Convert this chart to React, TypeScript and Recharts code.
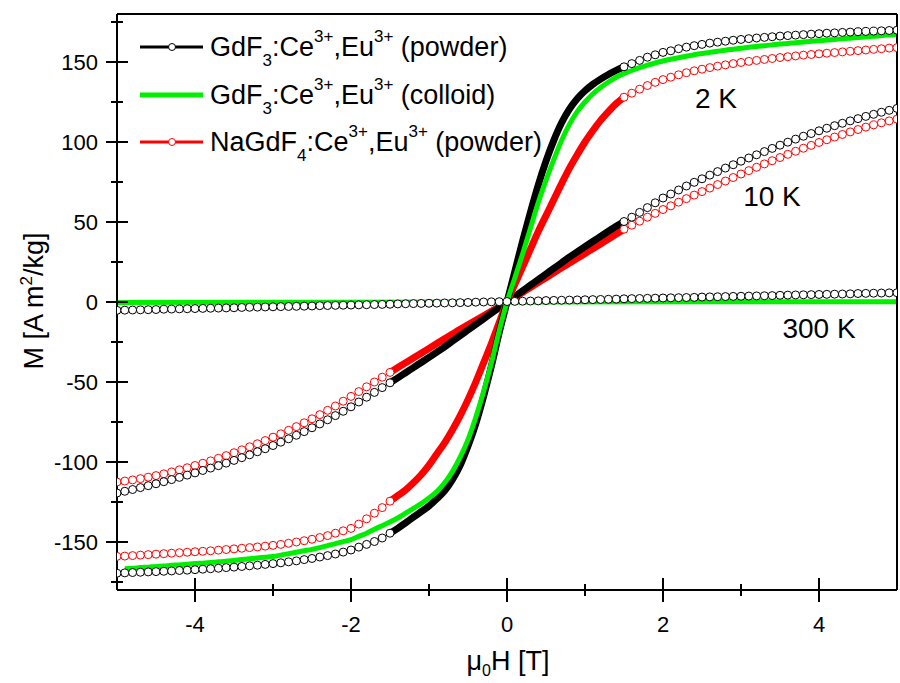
import { LineChart, Line, XAxis, YAxis, ReferenceLine } from "recharts";

// field grid, tesla
const FIELD = [
  -5, -4.9, -4.8, -4.7, -4.6, -4.5, -4.4, -4.3, -4.2, -4.1,
  -4, -3.9, -3.8, -3.7, -3.6, -3.5, -3.4, -3.3, -3.2, -3.1,
  -3, -2.9, -2.8, -2.7, -2.6, -2.5, -2.4, -2.3, -2.2, -2.1,
  -2, -1.9, -1.8, -1.7, -1.6, -1.5, -1.4, -1.3, -1.2, -1.1,
  -1, -0.9, -0.8, -0.7, -0.6, -0.5, -0.4, -0.3, -0.2, -0.1,
  0,
  0.1, 0.2, 0.3, 0.4, 0.5, 0.6, 0.7, 0.8, 0.9, 1,
  1.1, 1.2, 1.3, 1.4, 1.5, 1.6, 1.7, 1.8, 1.9, 2,
  2.1, 2.2, 2.3, 2.4, 2.5, 2.6, 2.7, 2.8, 2.9, 3,
  3.1, 3.2, 3.3, 3.4, 3.5, 3.6, 3.7, 3.8, 3.9, 4,
  4.1, 4.2, 4.3, 4.4, 4.5, 4.6, 4.7, 4.8, 4.9, 5,
];

// GdF3:Ce,Eu powder, 2 K
const GDF3_POWDER_2K = [
  -169.5, -169.3, -169.1, -168.9, -168.7, -168.5, -168.3, -168.1, -167.8, -167.6,
  -167.3, -167.0, -166.7, -166.4, -166.0, -165.7, -165.3, -164.9, -164.5, -164.0,
  -163.5, -163.0, -162.4, -161.8, -161.0, -160.3, -159.4, -158.5, -157.5, -156.3,
  -155.0, -153.2, -151.5, -149.7, -147.5, -144.5, -141.5, -138, -134.5, -131,
  -127.5, -123, -118, -111, -102, -90, -76, -59, -40, -19,
  0,
  19, 38, 56, 73, 88, 101, 112, 120.5, 127, 132,
  136, 139.3, 142.2, 144.7, 147, 149, 151, 153, 154.5, 156,
  157, 158.3, 159.3, 160.2, 161, 161.8, 162.4, 163, 163.6, 164.1,
  164.6, 165, 165.4, 165.8, 166.2, 166.5, 166.8, 167.1, 167.4, 167.7,
  168, 168.2, 168.5, 168.7, 168.9, 169.1, 169.3, 169.5, 169.7, 169.9,
];

// GdF3:Ce,Eu colloid, 2 K
const GDF3_COLLOID_2K = [
  null, -166.7, -166.4, -166.0, -165.7, -165.3, -165.0, -164.6, -164.3, -163.9,
  -163.5, -163.2, -162.8, -162.4, -162.0, -161.5, -161.0, -160.5, -160.0, -159.5,
  -159.0, -158.2, -157.3, -156.4, -155.5, -154.6, -153.5, -152.3, -151.0, -149.8,
  -148.5, -146.5, -144.5, -142.0, -139.8, -137.5, -135.0, -132.0, -129.0, -126.0,
  -122.5, -118.5, -113, -106, -97, -86, -72, -56, -38, -18,
  0,
  15, 30, 46, 62, 76, 89, 101, 111, 119, 125,
  130, 134, 137.5, 140.5, 142.7, 144.7, 146.5, 148, 149.4, 150.6,
  151.7, 152.7, 153.6, 154.5, 155.3, 156, 156.7, 157.4, 158, 158.6,
  159.2, 159.7, 160.2, 160.7, 161.2, 161.6, 162.1, 162.5, 162.9, 163.3,
  163.7, 164.1, 164.5, 164.9, 165.3, 165.7, 166.1, 166.5, 166.9, 167.3,
];

// NaGdF4:Ce,Eu powder, 2 K
const NAGDF4_POWDER_2K = [
  -159.0, -158.8, -158.5, -158.2, -157.9, -157.6, -157.3, -157.0, -156.7, -156.4,
  -156.1, -155.8, -155.5, -155.1, -154.7, -154.3, -153.9, -153.5, -153.1, -152.6,
  -152.1, -151.5, -150.8, -150.0, -149.2, -148.3, -147.2, -146.0, -144.5, -143.0,
  -141.5, -138.8, -135.5, -132.0, -128.5, -124.5, -121, -117.5, -113, -108,
  -102, -95, -88, -80, -71, -61, -50, -38, -26, -13,
  0,
  11, 22, 33, 44, 54, 64, 74, 83.5, 92, 100,
  107, 113.5, 119, 124, 128, 130.5, 133, 135.3, 137.3, 139,
  140.5, 142, 143.3, 144.5, 145.5, 146.5, 147.4, 148.2, 149, 149.7,
  150.4, 151, 151.6, 152.2, 152.8, 153.3, 153.8, 154.3, 154.7, 155.1,
  155.5, 155.9, 156.3, 156.7, 157.1, 157.5, 157.9, 158.3, 158.7, 159,
];

// GdF3:Ce,Eu powder, 10 K
const GDF3_POWDER_10K = [
  -119.4, -118.3, -117.2, -116.0, -114.8, -113.6, -112.3, -111.0, -109.6, -108.2,
  -106.8, -105.3, -103.8, -102.3, -100.7, -99.0, -97.3, -95.5, -93.6, -91.7,
  -89.7, -87.6, -85.5, -83.3, -81.0, -78.6, -76.2, -73.6, -71.0, -68.3,
  -65.5, -62.5, -59.5, -56.5, -53.5, -50.5, -47.4, -44.2, -41.0, -37.8,
  -34.6, -31.3, -28, -24.5, -21, -17.5, -14, -10.5, -7, -3.5,
  0,
  3.5, 7, 10.5, 14, 17.5, 21, 24.5, 28, 31.3, 34.6,
  37.8, 41, 44.2, 47.3, 50.3, 53, 56, 59, 62, 65,
  67.5, 70, 72.5, 74.8, 77, 79.3, 81.5, 83.7, 85.8, 88,
  90, 92, 94, 96, 98, 99.9, 101.8, 103.6, 105.3, 107,
  108.6, 110.2, 111.7, 113.2, 114.6, 116, 117.3, 118.6, 119.8, 121,
];

// NaGdF4:Ce,Eu powder, 10 K
const NAGDF4_POWDER_10K = [
  -112.5, -111.9, -111.2, -110.4, -109.5, -108.5, -107.4, -106.2, -104.9, -103.6,
  -102.2, -100.8, -99.3, -97.7, -96.0, -94.2, -92.4, -90.5, -88.6, -86.6,
  -84.5, -82.4, -80.2, -77.9, -75.5, -73.0, -70.4, -67.7, -65.0, -62.0,
  -59.0, -56.0, -53.0, -50.0, -47.0, -44.0, -41.0, -38.0, -35.0, -32.0,
  -29, -26, -23, -20, -17, -14.2, -11.4, -8.6, -5.8, -2.9,
  0,
  3, 6, 9.1, 12.1, 15.2, 18.2, 21.3, 24.3, 27.3, 30.3,
  33.3, 36.3, 39.3, 42.4, 45.5, 48, 50.5, 53, 55.4, 57.8,
  60.1, 62.4, 64.6, 66.8, 69, 71.2, 73.4, 75.6, 77.8, 80,
  82.1, 84.2, 86.3, 88.3, 90.3, 92.3, 94.2, 96.1, 97.9, 99.7,
  101.4, 103.1, 104.7, 106.3, 107.8, 109.3, 110.7, 112, 113.2, 114.3,
];

// GdF3:Ce,Eu powder, 300 K
const GDF3_POWDER_300K = [
  -5.2, -5.1, -5.0, -4.9, -4.8, -4.7, -4.5, -4.4, -4.3, -4.2,
  -4.1, -4.0, -3.9, -3.8, -3.7, -3.6, -3.4, -3.3, -3.2, -3.1,
  -3.0, -2.9, -2.8, -2.7, -2.6, -2.5, -2.3, -2.2, -2.1, -2.0,
  -1.9, -1.8, -1.7, -1.6, -1.5, -1.4, -1.2, -1.1, -1.0, -0.9,
  -0.8, -0.7, -0.6, -0.5, -0.4, -0.3, -0.1, 0.0, 0.1, 0.2,
  0.3,
  0.4, 0.5, 0.6, 0.7, 0.9, 1.0, 1.1, 1.2, 1.3, 1.4,
  1.5, 1.6, 1.7, 1.8, 2.0, 2.1, 2.2, 2.3, 2.4, 2.5,
  2.6, 2.7, 2.8, 2.9, 3.1, 3.2, 3.3, 3.4, 3.5, 3.6,
  3.7, 3.8, 3.9, 4.0, 4.2, 4.3, 4.4, 4.5, 4.6, 4.7,
  4.8, 4.9, 5.0, 5.1, 5.3, 5.4, 5.5, 5.6, 5.7, 5.8,
];

// colloid at 300 K is flat
const COLLOID_300K_FIELD = [-5, -2.5, 0, 2.5, 5];
const GDF3_COLLOID_300K = [-0.3, -0.2, 0, 0.1, 0.1];

const X_TICKS = [-4, -3, -2, -1, 0, 1, 2, 3, 4];
const Y_TICKS = [-175, -150, -125, -100, -75, -50, -25, 0, 25, 50, 75, 100, 125, 150, 175];

const FONT = '"Liberation Sans", Arial, sans-serif';
const BLACK = "#000000";
const RED = "#ff0000";
const GREEN = "#00ee00";
const DENSE = 1.5; // below this field the markers merge into a solid band

type Pt = { x: number; m: number | null };

function toPoints(values: (number | null)[], field: number[] = FIELD): Pt[] {
  return field.map((x, i) => ({ x, m: values[i] }));
}

function denseBand(values: (number | null)[]): Pt[] {
  return toPoints(values).filter((p) => Math.abs(p.x) <= DENSE + 1e-6);
}

function openPart(values: (number | null)[]): Pt[] {
  const pts = toPoints(values);
  return [
    ...pts.filter((p) => p.x <= -DENSE + 1e-6),
    { x: 0, m: null },
    ...pts.filter((p) => p.x >= DENSE - 1e-6),
  ];
}

function XTick(props: any) {
  const { x, y, payload } = props;
  const v = payload.value as number;
  const major = v % 2 === 0;
  const len = major ? 12 : 6;
  return (
    <g>
      <line x1={x} x2={x} y1={y - len} y2={y + len} stroke={BLACK} strokeWidth={2} />
      {major && (
        <text x={x} y={y + 42} textAnchor="middle" fontSize={22} fontFamily={FONT} fill={BLACK}>
          {String(v)}
        </text>
      )}
    </g>
  );
}

function YTick(props: any) {
  const { x, y, payload } = props;
  const v = payload.value as number;
  const major = v % 50 === 0;
  const len = major ? 11 : 6;
  return (
    <g>
      <line x1={x - len} x2={x + len} y1={y} y2={y} stroke={BLACK} strokeWidth={2} />
      {major && (
        <text x={x - 19} y={y} dy="0.36em" textAnchor="end" fontSize={22} fontFamily={FONT} fill={BLACK}>
          {String(v)}
        </text>
      )}
    </g>
  );
}

function openDot(color: string) {
  return { r: 4, fill: "#ffffff", stroke: color, strokeWidth: 1 };
}

function LegendText({ y, base, sub, tail }: { y: number; base: string; sub: string; tail: string }) {
  return (
    <text x={210} y={y} fontSize={27} fontFamily={FONT} fill={BLACK}>
      {base}
      <tspan dy={10} fontSize={17}>{sub}</tspan>
      <tspan dy={-10}>:Ce</tspan>
      <tspan dy={-14} fontSize={17}>3+</tspan>
      <tspan dy={14}>,Eu</tspan>
      <tspan dy={-14} fontSize={17}>3+</tspan>
      <tspan dy={14}>{"\u00a0" + tail}</tspan>
    </text>
  );
}

export default function App() {
  return (
    <div style={{ position: "absolute", left: 0, top: 0, width: 900, height: 683, background: "#fff" }}>
      <LineChart width={900} height={683} margin={{ top: 14, right: 3, bottom: 0, left: 0 }}>
        <XAxis
          dataKey="x"
          type="number"
          domain={[-5, 5]}
          ticks={X_TICKS}
          interval={0}
          height={93}
          tickSize={0}
          tickMargin={0}
          tickLine={false}
          axisLine={{ stroke: BLACK, strokeWidth: 2 }}
          tick={<XTick />}
          allowDataOverflow
        />
        <YAxis
          type="number"
          domain={[-180, 180]}
          ticks={Y_TICKS}
          interval={0}
          width={117}
          tickSize={0}
          tickMargin={0}
          tickLine={false}
          axisLine={{ stroke: BLACK, strokeWidth: 2 }}
          tick={<YTick />}
          allowDataOverflow
        />

        {/* 10 K */}
        <Line data={denseBand(NAGDF4_POWDER_10K)} dataKey="m" type="monotone" stroke={RED} strokeWidth={7} dot={false} activeDot={false} isAnimationActive={false} />
        <Line data={openPart(NAGDF4_POWDER_10K)} dataKey="m" stroke={RED} strokeWidth={1} dot={openDot(RED)} activeDot={false} isAnimationActive={false} />
        <Line data={denseBand(GDF3_POWDER_10K)} dataKey="m" type="monotone" stroke={BLACK} strokeWidth={7} dot={false} activeDot={false} isAnimationActive={false} />
        <Line data={openPart(GDF3_POWDER_10K)} dataKey="m" stroke={BLACK} strokeWidth={1} dot={openDot(BLACK)} activeDot={false} isAnimationActive={false} />

        {/* 2 K */}
        <Line data={denseBand(NAGDF4_POWDER_2K)} dataKey="m" type="monotone" stroke={RED} strokeWidth={7} dot={false} activeDot={false} isAnimationActive={false} />
        <Line data={openPart(NAGDF4_POWDER_2K)} dataKey="m" stroke={RED} strokeWidth={1} dot={openDot(RED)} activeDot={false} isAnimationActive={false} />
        <Line data={denseBand(GDF3_POWDER_2K)} dataKey="m" type="monotone" stroke={BLACK} strokeWidth={7} dot={false} activeDot={false} isAnimationActive={false} />
        <Line data={openPart(GDF3_POWDER_2K)} dataKey="m" stroke={BLACK} strokeWidth={1} dot={openDot(BLACK)} activeDot={false} isAnimationActive={false} />

        {/* 300 K */}
        <Line data={toPoints(GDF3_POWDER_300K)} dataKey="m" stroke={BLACK} strokeWidth={1} dot={openDot(BLACK)} activeDot={false} isAnimationActive={false} />

        {/* colloid */}
        <Line data={toPoints(GDF3_COLLOID_2K)} dataKey="m" type="monotone" stroke={GREEN} strokeWidth={5} dot={false} activeDot={false} isAnimationActive={false} />
        <Line data={toPoints(GDF3_COLLOID_300K, COLLOID_300K_FIELD)} dataKey="m" stroke={GREEN} strokeWidth={5} dot={false} activeDot={false} isAnimationActive={false} />

        <ReferenceLine x={5} stroke={BLACK} strokeWidth={2} />
        <ReferenceLine y={180} stroke={BLACK} strokeWidth={2} />
      </LineChart>

      <svg width={900} height={683} style={{ position: "absolute", left: 0, top: 0, pointerEvents: "none" }}>
        {/* legend */}
        <line x1={140} x2={203} y1={47} y2={47} stroke={BLACK} strokeWidth={3} />
        <circle cx={172} cy={47} r={3.5} fill="#fff" stroke={BLACK} strokeWidth={1} />
        <LegendText y={56} base="GdF" sub="3" tail="(powder)" />

        <line x1={140} x2={203} y1={95} y2={95} stroke={GREEN} strokeWidth={5} />
        <LegendText y={104} base="GdF" sub="3" tail="(colloid)" />

        <line x1={140} x2={203} y1={142} y2={142} stroke={RED} strokeWidth={3} />
        <circle cx={172} cy={142} r={3.5} fill="#fff" stroke={RED} strokeWidth={1} />
        <LegendText y={151} base="NaGdF" sub="4" tail="(powder)" />

        {/* temperatures */}
        <text x={716} y={108} textAnchor="middle" fontSize={28} fontFamily={FONT} fill={BLACK}>2 K</text>
        <text x={772} y={206} textAnchor="middle" fontSize={28} fontFamily={FONT} fill={BLACK}>10 K</text>
        <text x={819} y={338} textAnchor="middle" fontSize={28} fontFamily={FONT} fill={BLACK}>300 K</text>

        {/* axis titles */}
        <text x={508} y={670} textAnchor="middle" fontSize={27} fontFamily={FONT} fill={BLACK}>
          μ<tspan dy={6} fontSize={16}>0</tspan>
          <tspan dy={-6}>H [T]</tspan>
        </text>
        <text x={43} y={301} textAnchor="middle" fontSize={27} fontFamily={FONT} fill={BLACK} transform="rotate(-90 43 301)">
          M [A m<tspan dy={-11} fontSize={17}>2</tspan>
          <tspan dy={11}>/kg]</tspan>
        </text>
      </svg>
    </div>
  );
}
